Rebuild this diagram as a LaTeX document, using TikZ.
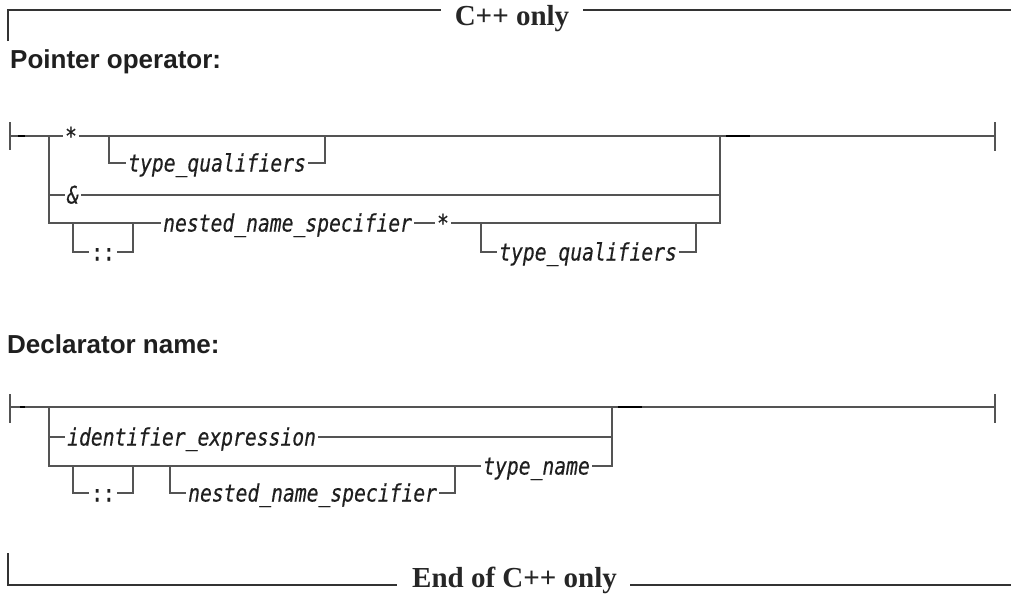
\documentclass[tikz,border=0pt]{standalone}
\usepackage{fontspec}
\setmainfont{Liberation Serif}
\newfontfamily\headfont{Liberation Sans}
\newfontfamily\monofnt[FakeStretch=0.82,FakeBold=0.4]{DejaVu Sans Mono}
\definecolor{linegray}{gray}{0.33}
\definecolor{txtgray}{gray}{0.12}
\begin{document}
\begin{tikzpicture}[x=1pt,y=-1pt,
  rr/.style={draw=linegray,line width=1.3pt},
  frame/.style={draw=black!80,line width=1.1pt},
  dk/.style={draw=black,line width=2pt},
  lbl/.style={font={\monofnt\itshape\fontsize{24}{24}\selectfont},text=txtgray,inner xsep=2pt,inner ysep=0pt,text height=17pt,text depth=0pt},
  head/.style={font={\headfont\bfseries\fontsize{26}{26}\selectfont},text=txtgray,anchor=base west,inner sep=0pt},
  ttl/.style={font={\bfseries\fontsize{29}{29}\selectfont},text=black!85,anchor=base,inner sep=0pt}]
\fill[white] (0,0) rectangle (1011,595);
\useasboundingbox (0,0) rectangle (1011,595);

% frame and titles
\node[ttl] (title) at (512,25) {C++ only};
\draw[frame] (8,41) -- (8,10) -- (441,10);
\draw[frame] (583,10) -- (1011,10);
\node[ttl] (endt) at (514.5,587) {End of C++ only};
\draw[frame] (8,553) -- (8,585) -- (397,585);
\draw[frame] (630,585) -- (1011,585);

\node[head] (h1) at (10,68) {Pointer operator:};
\node[head] (h2) at (7,353) {Declarator name:};

% ---------- Pointer operator ----------
\coordinate (s1) at (10,136);
\coordinate (e1) at (995,136);
\coordinate (a1) at (49,136);
\coordinate (c2) at (49,195);
\coordinate (c3) at (49,223);
\coordinate (r1) at (720,136);
\coordinate (r2) at (720,195);
\coordinate (r3) at (720,223);
\node[lbl] (st1) at (71,136) {*};
\node[lbl,anchor=west] (tq1) at (126,163) {type\_qualifiers};
\node[lbl] (amp) at (73,195) {\&};
\node[lbl] (cc1) at (103,252) {\upshape::};
\node[lbl,anchor=west] (nns1) at (161,223) {nested\_name\_specifier};
\node[lbl] (st2) at (443,223) {*};
\node[lbl,anchor=west] (tq2) at (497,252) {type\_qualifiers};

\draw[rr] (10,122) -- (10,150);
\draw[rr] (995,122) -- (995,151);
\draw[rr] (s1) -- (st1) -- (e1);
\draw[rr] (a1) -- (c3) -- (nns1) -- (st2) -- (r3) -- (r1);
\draw[rr] (c2) -- (amp) -- (r2);
\coordinate (q1a) at (109,136); \coordinate (q1b) at (109,163);
\coordinate (q1c) at (325,163); \coordinate (q1d) at (325,136);
\draw[rr] (q1a) -- (q1b) -- (tq1) -- (q1c) -- (q1d);
\coordinate (k1a) at (73,223); \coordinate (k1b) at (73,252);
\coordinate (k1c) at (133,252); \coordinate (k1d) at (133,223);
\draw[rr] (k1a) -- (k1b) -- (cc1) -- (k1c) -- (k1d);
\coordinate (q2a) at (481,223); \coordinate (q2b) at (481,252);
\coordinate (q2c) at (696,252); \coordinate (q2d) at (696,223);
\draw[rr] (q2a) -- (q2b) -- (tq2) -- (q2c) -- (q2d);
\draw[dk] (18,136) -- (25,136);
\draw[dk] (726,136) -- (750,136);

% ---------- Declarator name ----------
\coordinate (s2) at (10,407);
\coordinate (e2) at (995,407);
\coordinate (a2) at (49,407);
\coordinate (d2) at (49,437);
\coordinate (d3) at (49,466);
\coordinate (u1) at (612,407);
\coordinate (u2) at (612,437);
\coordinate (u3) at (612,466);
\node[lbl,anchor=west] (ie) at (65,437) {identifier\_expression};
\node[lbl] (cc2) at (103,493) {\upshape::};
\node[lbl,anchor=west] (nns2) at (186,493) {nested\_name\_specifier};
\node[lbl,anchor=west] (tn) at (481,466) {type\_name};

\draw[rr] (10,394) -- (10,423);
\draw[rr] (995,394) -- (995,423);
\draw[rr] (s2) -- (e2);
\draw[rr] (a2) -- (d3) -- (tn) -- (u3) -- (u1);
\draw[rr] (d2) -- (ie) -- (u2);
\coordinate (k2a) at (73,466); \coordinate (k2b) at (73,493);
\coordinate (k2c) at (133,493); \coordinate (k2d) at (133,466);
\draw[rr] (k2a) -- (k2b) -- (cc2) -- (k2c) -- (k2d);
\coordinate (n2a) at (170,466); \coordinate (n2b) at (170,493);
\coordinate (n2c) at (455,493); \coordinate (n2d) at (455,466);
\draw[rr] (n2a) -- (n2b) -- (nns2) -- (n2c) -- (n2d);
\draw[dk] (20,407) -- (25,407);
\draw[dk] (618,407) -- (642,407);
\end{tikzpicture}
\end{document}
